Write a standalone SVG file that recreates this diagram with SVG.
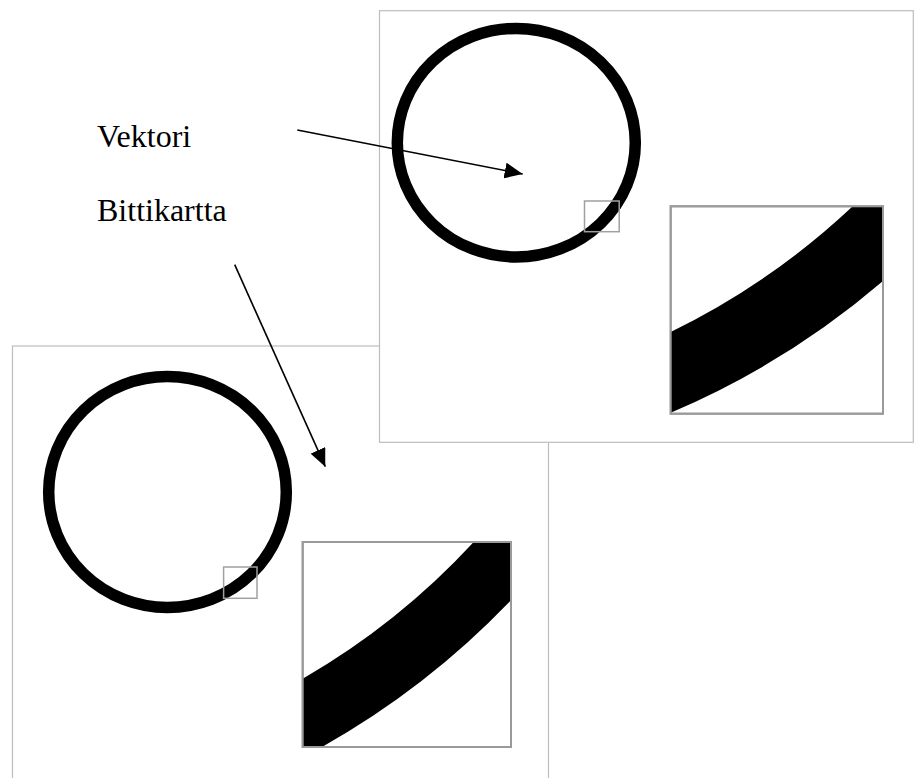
<svg xmlns="http://www.w3.org/2000/svg" width="915" height="778" viewBox="0 0 915 778">
<style>
.panel{fill:#fff;stroke:#bdbdbd;stroke-width:1.2}
.ring{fill:none;stroke:#000;stroke-width:11.5}
.sq{fill:none;stroke:#a0a0a0;stroke-width:1.5}
.zbox{fill:#fff;stroke:#9a9a9a;stroke-width:2}
.band{fill:#000;stroke:none}
.conn{fill:none;stroke:#000;stroke-width:1.6}
.lbl{font-family:"Liberation Serif","Times New Roman",serif;font-size:32px;fill:#000}
</style>
<defs>
<marker id="ah" markerUnits="userSpaceOnUse" markerWidth="20" markerHeight="16" refX="18" refY="8" orient="auto">
<path d="M0,0 L18,8 L0,16 Z" fill="#000"/>
</marker>
</defs>
<rect width="915" height="778" fill="#fff"/>
<g id="bitmap-panel">
<rect class="panel" x="12.5" y="346" width="536" height="440"/>
<ellipse class="ring" cx="167.5" cy="492" rx="118.8" ry="115.5"/>
<rect class="sq" x="223.6" y="567" width="33.4" height="31.3"/>
<rect class="zbox" x="302.7" y="542" width="208.3" height="205"/>
<path class="band" d="M302.7,678.7 Q398.6,623.4 473.7,542 L511,542 L511,600.3 Q427.4,687.8 322,747 L302.7,747 Z"/>
<rect x="302.7" y="542" width="208.3" height="205" fill="none" stroke="#9a9a9a" stroke-width="2"/>
</g>
<g id="vector-panel">
<rect class="panel" x="379.5" y="10.7" width="533.8" height="431.6"/>
<ellipse class="ring" cx="516.3" cy="142.7" rx="119" ry="114.3"/>
<rect class="sq" x="584.5" y="201" width="34.7" height="30.7"/>
<rect class="zbox" x="670.7" y="206.3" width="212.3" height="207.4"/>
<path class="band" d="M670.7,332 Q771.3,282.9 852.7,206.3 L883,206.3 L883,281 Q786.9,363.4 670.7,412.7 Z"/>
<rect x="670.7" y="206.3" width="212.3" height="207.4" fill="none" stroke="#9a9a9a" stroke-width="2"/>
</g>
<g id="label-vektori">
<text class="lbl" x="97" y="147">Vektori</text>
</g>
<g id="label-bittikartta">
<text class="lbl" x="97" y="221">Bittikartta</text>
</g>
<g id="connectors">
<line class="conn" x1="297.3" y1="130" x2="522.7" y2="174" marker-end="url(#ah)"/>
<line class="conn" x1="234.7" y1="264.7" x2="325.3" y2="466.7" marker-end="url(#ah)"/>
</g>
</svg>
